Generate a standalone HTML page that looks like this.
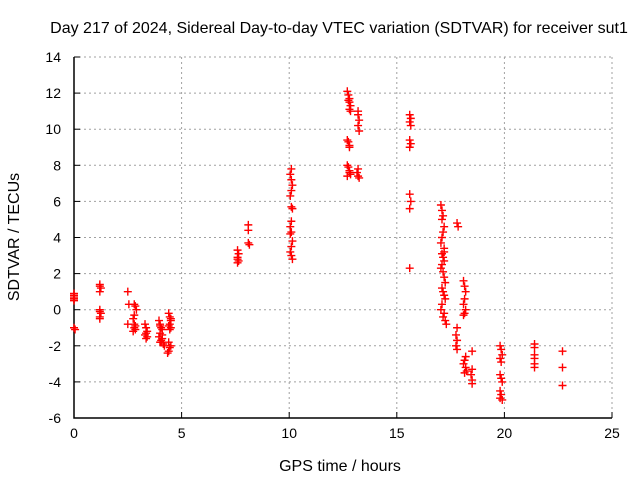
<!DOCTYPE html>
<html><head><meta charset="utf-8"><style>
body{margin:0;background:#fff}
svg{display:block;font-family:"Liberation Sans",sans-serif}
</style></head><body>
<svg id="chart" width="640" height="480">
<text x="339" y="33" text-anchor="middle" font-size="16">Day 217 of 2024, Sidereal Day-to-day VTEC variation (SDTVAR) for receiver sut1</text>
<text x="340" y="471" text-anchor="middle" font-size="16">GPS time / hours</text>
<text transform="translate(19,237) rotate(-90)" text-anchor="middle" font-size="16">SDTVAR / TECUs</text>
<g id="grid"></g><g id="ticks"></g><g id="pts"></g>
</svg>
<script>
const xTicks=[0,5,10,15,20,25];
const yTicks=[-6,-4,-2,0,2,4,6,8,10,12,14];
const xs=[0,0,0,0,0,0,0.05,0,
1.2,1.2,1.25,1.2,1.2,1.2,1.25,1.2,1.2,
2.5,2.55,2.5,2.8,2.85,2.8,2.75,2.8,2.85,2.8,2.85,2.75,2.9,
3.3,3.35,3.4,3.35,3.3,3.4,3.35,
3.95,4.0,4.05,4.1,4.0,3.95,4.1,4.05,4.0,4.15,4.2,4.1,4.0,4.05,
4.4,4.45,4.5,4.45,4.4,4.5,4.45,4.4,4.5,4.45,4.4,4.35,4.5,
7.6,7.65,7.6,7.6,7.65,7.6,
8.1,8.1,8.1,8.15,
10.1,10.05,10.1,10.15,10.1,10.05,10.1,10.15,10.1,10.05,10.1,10.15,10.1,10.05,10.1,10.15,10.05,
12.7,12.75,12.8,12.75,12.8,12.85,12.8,12.85,12.7,12.75,12.8,12.8,12.7,12.75,12.8,12.85,12.7,12.8,
13.2,13.2,13.25,13.2,13.25,13.2,13.15,13.2,13.25,
15.6,15.65,15.6,15.65,15.6,15.65,15.6,15.6,15.65,15.6,15.6,
17.05,17.1,17.15,17.1,17.2,17.15,17.1,17.05,17.2,17.1,17.15,17.2,17.1,17.05,17.15,17.2,17.25,17.1,17.15,17.2,17.25,17.1,17.05,17.2,17.15,17.25,17.3,17.2,
17.8,17.85,17.8,17.75,17.8,17.75,17.8,
18.1,18.15,18.2,18.15,18.1,18.2,18.15,18.1,18.2,18.15,18.1,18.2,18.25,18.15,
18.5,18.5,18.45,18.5,18.5,
19.8,19.85,19.9,19.8,19.85,19.8,19.85,19.9,19.8,19.85,19.8,19.9,
21.4,21.4,21.4,21.4,21.4,21.4,
22.7,22.7,22.7];
const ys=[0.9,0.8,0.7,0.6,0.5,0.6,-1.1,-1.0,
1.4,1.3,1.2,1.0,0.0,-0.1,-0.2,-0.4,-0.5,
1.0,0.3,-0.8,0.3,0.2,-0.3,-0.5,-0.8,-0.9,-1.0,-1.1,-1.2,0.0,
-0.8,-1.0,-1.2,-1.3,-1.4,-1.5,-1.6,
-0.6,-0.8,-1.0,-1.1,-1.3,-1.5,-1.6,-1.7,-1.8,-1.9,-2.0,-1.4,-0.9,-1.8,
-0.2,-0.4,-0.6,-0.8,-0.9,-1.0,-1.1,-1.8,-2.0,-2.1,-2.3,-2.4,-0.5,
3.3,3.1,2.9,2.8,2.7,2.6,
4.7,4.4,3.7,3.6,
7.8,7.5,7.2,6.9,6.6,6.3,5.7,5.6,4.9,4.6,4.3,3.8,3.5,3.2,3.0,2.8,4.2,
12.1,11.9,11.7,11.6,11.5,11.3,11.1,11.0,9.4,9.3,9.1,9.0,8.0,7.9,7.7,7.5,7.4,7.6,
11.0,10.8,10.5,10.2,9.9,7.8,7.6,7.4,7.3,
10.8,10.6,10.4,10.2,9.4,9.2,9.0,6.4,6.0,5.6,2.3,
5.8,5.5,5.2,5.0,4.6,4.3,4.0,3.7,3.4,3.1,2.9,2.7,2.5,2.3,2.1,1.8,1.5,1.2,1.0,0.8,0.6,0.3,0.0,-0.2,-0.4,-0.6,-0.8,3.2,
4.8,4.6,-1.0,-1.4,-1.7,-2.0,-2.2,
1.6,1.3,1.0,0.6,0.3,0.0,-0.2,-0.3,-2.6,-2.8,-3.0,-3.2,-3.4,-3.5,
-2.3,-3.3,-3.6,-3.9,-4.1,
-2.0,-2.2,-2.5,-2.7,-2.9,-3.6,-3.8,-4.0,-4.5,-4.7,-4.9,-5.0,
-1.9,-2.1,-2.5,-2.7,-3.0,-3.2,
-2.3,-3.2,-4.2];
const L=74,R=612,T=57,B=418;
const sx=v=>L+(v-0)/25*(R-L);
const sy=v=>B-(v+6)/20*(B-T);
const NS="http://www.w3.org/2000/svg";
function mk(tag,parent,attrs){const e=document.createElementNS(NS,tag);for(const k in attrs)e.setAttribute(k,attrs[k]);parent.appendChild(e);return e;}
const grid=document.getElementById('grid'),ticks=document.getElementById('ticks'),pts=document.getElementById('pts');
xTicks.forEach(t=>{
 const g=mk('line',grid,{x1:sx(t),x2:sx(t),y1:T,y2:B,stroke:'#a0a0a0','stroke-dasharray':'2,3'});
 
 
 const tl=mk('line',ticks,{x1:sx(t),x2:sx(t),y1:B,y2:B-6,stroke:'#000'});
 
 
 const tx=mk('text',ticks,{x:sx(t),y:B+20,'text-anchor':'middle','font-size':'14'});
 tx.textContent=t;
 
 
});
yTicks.forEach(t=>{
 const g=mk('line',grid,{x1:L,x2:R,y1:sy(t),y2:sy(t),stroke:'#a0a0a0','stroke-dasharray':'2,3'});
 
 
 const tl=mk('line',ticks,{x1:L,x2:L+6,y1:sy(t),y2:sy(t),stroke:'#000'});
 
 
 const tx=mk('text',ticks,{x:L-13,y:sy(t)+5,'text-anchor':'end','font-size':'14'});
 tx.textContent=t;
 
 
});
const ax=mk('path',ticks,{d:`M${L},${T}V${B}H${R}`,stroke:'#000',fill:'none','stroke-width':'1.5'});


for(let i=0;i<xs.length;i++){
 const x=sx(xs[i]),y=sy(ys[i]);
 const p=mk('path',pts,{d:`M${x-4},${y}H${x+4}M${x},${y-4}V${y+4}`,stroke:'#f00','stroke-width':'1.4'});
 
 
}
</script>
</body></html>
